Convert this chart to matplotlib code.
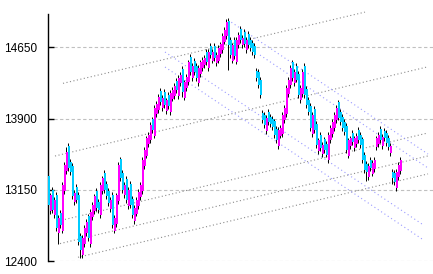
import numpy as np
import matplotlib
matplotlib.use("Agg")
import matplotlib.pyplot as plt

plt.rcParams["font.family"] = ["Liberation Sans", "DejaVu Sans"]

# daily candles, one per session
opens = [
    13300, 12930, 13150, 12880, 13100, 12690, 12910, 12720, 13140, 13350,
    13610, 13440, 13400, 13020, 13180, 13100, 12660, 12460, 12580, 12690,
    12870, 12580, 12860, 12930, 13140, 13020, 12880, 13140, 13330, 13210,
    13140, 12950, 13100, 12720, 12790, 13030, 13470, 13330, 13090, 13260,
    12980, 13210, 13050, 12820, 12900, 12980, 13070, 13140, 13400, 13510,
    13630, 13670, 13890, 13720, 13950, 13990, 14190, 14010, 14180, 13980,
    14150, 13970, 14110, 14140, 14300, 14140, 14270, 14420, 14120, 14220,
    14280, 14550, 14330, 14510, 14450, 14270, 14370, 14430, 14460, 14600,
    14430, 14660, 14510, 14660, 14480, 14510, 14580, 14620, 14710, 14770,
    14930, 14730, 14510, 14730, 14500, 14670, 14840, 14670, 14810, 14620,
    14790, 14730, 14700, 14660, 14400, 14390, 14310, 13960, 13940, 13770,
    13970, 13920, 13900, 13870, 13790, 13610, 13720, 13740, 13880, 13950,
    14160, 14250, 14490, 14270, 14450, 14370, 14090, 14160, 14450, 14210,
    14100, 14030, 13740, 14000, 13840, 13560, 13730, 13530, 13680, 13630,
    13460, 13670, 13740, 13800, 13880, 14070, 13970, 13920, 13860, 13820,
    13510, 13610, 13750, 13590, 13630, 13780, 13730, 13680, 13520, 13420,
    13280, 13460, 13320, 13370, 13600, 13630, 13790, 13610, 13770, 13750,
    13700, 13540, 13340, 13330, 13170, 13280, 13350,
]
closes = [
    12990, 13090, 12940, 13040, 12750, 12850, 12780, 13200, 13410, 13550,
    13380, 13340, 13080, 13120, 13040, 12600, 12520, 12640, 12750, 12810,
    12640, 12920, 12990, 13080, 12960, 12940, 13200, 13270, 13150, 13080,
    13010, 13040, 12780, 12850, 13090, 13410, 13270, 13150, 13200, 13040,
    13150, 12990, 12880, 12960, 13040, 13130, 13200, 13460, 13570, 13690,
    13730, 13830, 13780, 14010, 14050, 14130, 14070, 14120, 14040, 14090,
    14030, 14170, 14200, 14240, 14200, 14330, 14360, 14180, 14280, 14340,
    14490, 14390, 14450, 14390, 14330, 14430, 14490, 14520, 14540, 14490,
    14600, 14570, 14600, 14540, 14570, 14640, 14680, 14770, 14830, 14920,
    14670, 14570, 14670, 14560, 14730, 14780, 14730, 14750, 14680, 14730,
    14670, 14640, 14600, 14570, 14330, 14250, 14150, 13880, 13830, 13910,
    13860, 13840, 13810, 13730, 13670, 13780, 13800, 13940, 14010, 14220,
    14310, 14430, 14330, 14390, 14310, 14150, 14220, 14390, 14150, 14040,
    13970, 13800, 13940, 13780, 13620, 13670, 13590, 13620, 13570, 13520,
    13730, 13800, 13860, 13940, 14010, 13910, 13860, 13800, 13760, 13570,
    13670, 13690, 13650, 13690, 13720, 13670, 13620, 13460, 13360, 13340,
    13400, 13380, 13430, 13460, 13690, 13730, 13670, 13710, 13690, 13640,
    13600, 13610, 13270, 13230, 13340, 13410, 13460,
]
# sessions with long shadows: index -> (high, low)
long_wicks = {
    5: (12870, 12580), 9: (13600, 13400), 16: (12650, 12430),
    67: (14440, 14130), 90: (14960, 14410), 159: (13420, 13240),
    172: (13340, 13210),
}

# trend lines: (start index, start price, end index, end price)
up_lines = [
    (7, 14270, 158, 15020),
    (3, 13505, 189, 14442),
    (4.5, 12820, 189.5, 13748),
    (5.5, 12583, 189.5, 13506),
    (14.5, 12439, 189.5, 13317),
]
down_lines = [
    (89.5, 14937, 189.5, 13526),
    (105.5, 14568, 189.5, 13379),
    (58, 14600, 186.5, 12789),
    (58, 14442, 186.5, 12632),
]

y_ticks = [12400, 13150, 13900, 14650]

opens = np.array(opens, dtype=float)
closes = np.array(closes, dtype=float)
x = np.arange(len(closes))
highs = np.maximum(opens, closes) + 30
lows = np.minimum(opens, closes) - 30
for k, (h, l) in long_wicks.items():
    highs[k] = max(highs[k], h)
    lows[k] = min(lows[k], l)

fig = plt.figure(figsize=(4.33, 2.74), dpi=100)
ax = fig.add_axes([48 / 433, 13 / 274, 385 / 433, 247 / 274])

for t in y_ticks:
    ax.axhline(t, color="#c0c0c0", lw=0.8, ls=(0, (3, 2.2)), zorder=1)

for x0, p0, x1, p1 in up_lines:
    ax.plot([x0, x1], [p0, p1], color="#8c8c8c", lw=0.8,
            ls=(0, (1, 2.2)), zorder=2, clip_on=False)
for x0, p0, x1, p1 in down_lines:
    ax.plot([x0, x1], [p0, p1], color="#9a9aff", lw=0.8,
            ls=(0, (1, 2.6)), zorder=2, clip_on=False)

up = closes >= opens
colors = np.where(up, "#ff00ff", "#00ccff")
ax.vlines(x - 0.4, lows, highs, color="black", lw=0.7, zorder=3)
ax.bar(x + 0.2, closes - opens, bottom=opens, width=1.0, color=colors,
       linewidth=0, zorder=4)

ax.set_xlim(-0.5, 192)
ax.set_ylim(12400, 15000)
ax.set_yticks(y_ticks)
ax.set_xticks([])
for s in ["top", "right", "bottom"]:
    ax.spines[s].set_visible(False)
ax.spines["left"].set_linewidth(1)
ax.tick_params(axis="y", direction="in", length=4, width=1, pad=8,
               labelsize=8.5)

fig.savefig("out.png", dpi=100)
